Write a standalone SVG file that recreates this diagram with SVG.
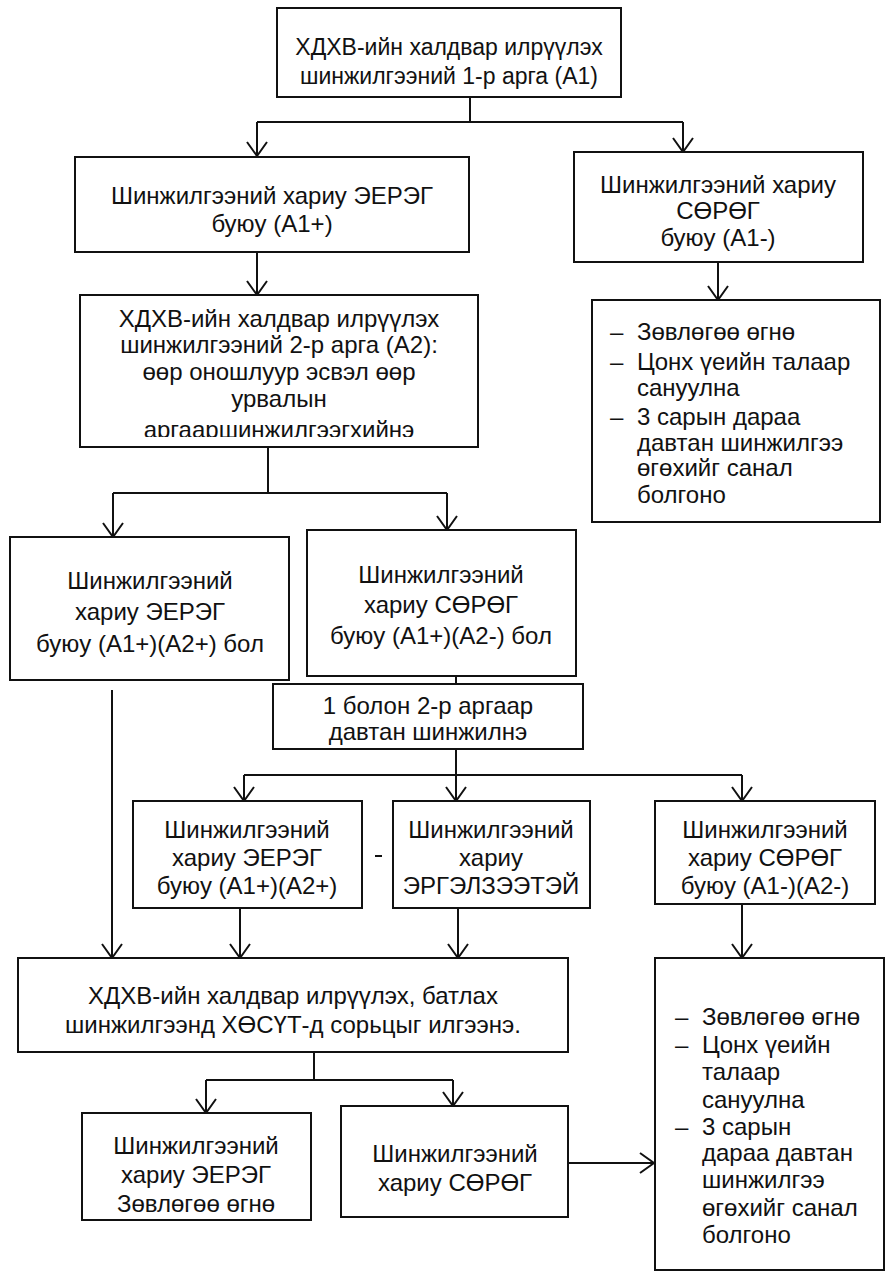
<svg xmlns="http://www.w3.org/2000/svg" width="886" height="1279" viewBox="0 0 886 1279">
<style>
.box{fill:#fff;stroke:#111;stroke-width:2}
.t{font-family:"Liberation Sans",Arial,sans-serif;font-size:24px;fill:#111;text-anchor:middle}
.l{font-family:"Liberation Sans",Arial,sans-serif;font-size:24px;fill:#111}
.c{fill:none;stroke:#111;stroke-width:2}
</style>
<defs>
<marker id="arr" viewBox="0 0 16 22" refX="15" refY="11" markerWidth="16" markerHeight="22" markerUnits="userSpaceOnUse" orient="auto">
<path d="M1,1 L15,11 L1,21" fill="none" stroke="#111" stroke-width="2"/>
</marker>
<clipPath id="clip5"><rect x="80" y="295" width="398" height="142"/></clipPath>
</defs>
<rect width="886" height="1279" fill="#fff"/>
<g id="connectors">
<path class="c" d="M470,97 V122 M257,122 H683"/>
<path class="c" d="M257,122 V156" marker-end="url(#arr)"/>
<path class="c" d="M683,122 V152" marker-end="url(#arr)"/>
<path class="c" d="M718,262 V300" marker-end="url(#arr)"/>
<path class="c" d="M257,252 V295" marker-end="url(#arr)"/>
<path class="c" d="M268,447 V493 M113,493 H447"/>
<path class="c" d="M113,493 V537" marker-end="url(#arr)"/>
<path class="c" d="M447,493 V530" marker-end="url(#arr)"/>
<path class="c" d="M112,690 V958" marker-end="url(#arr)"/>
<path class="c" d="M456,676 V684"/>
<path class="c" d="M456,749 V775 M244,775 H742"/>
<path class="c" d="M244,775 V801" marker-end="url(#arr)"/>
<path class="c" d="M456,775 V801" marker-end="url(#arr)"/>
<path class="c" d="M742,775 V801" marker-end="url(#arr)"/>
<path class="c" d="M240,908 V958" marker-end="url(#arr)"/>
<path class="c" d="M458,908 V958" marker-end="url(#arr)"/>
<path class="c" d="M742,904 V958" marker-end="url(#arr)"/>
<path class="c" d="M314,1052 V1080 M206,1080 H453"/>
<path class="c" d="M206,1080 V1113" marker-end="url(#arr)"/>
<path class="c" d="M453,1080 V1106" marker-end="url(#arr)"/>
<path class="c" d="M568,1163 H654" marker-end="url(#arr)"/>
<path class="c" d="M375,856 H382" stroke-width="1.5"/>
</g>
<g id="n1">
<rect class="box" x="277" y="8" width="344" height="89"/>
<text class="t" x="449" y="55" style="font-size:23px">ХДХВ-ийн халдвар илрүүлэх</text>
<text class="t" x="449" y="84" style="font-size:23px">шинжилгээний 1-р арга (А1)</text>
</g>
<g id="n2">
<rect class="box" x="75" y="157" width="394" height="95"/>
<text class="t" x="272" y="204">Шинжилгээний хариу ЭЕРЭГ</text>
<text class="t" x="272" y="232">буюу (А1+)</text>
</g>
<g id="n3">
<rect class="box" x="574" y="152" width="289" height="110"/>
<text class="t" x="718" y="193">Шинжилгээний хариу</text>
<text class="t" x="718" y="219">СӨРӨГ</text>
<text class="t" x="718" y="246">буюу (А1-)</text>
</g>
<g id="n4">
<rect class="box" x="592" y="300" width="288" height="222"/>
<text class="l" x="610" y="340">–</text><text class="l" x="637" y="340">Зөвлөгөө өгнө</text>
<text class="l" x="610" y="370">–</text><text class="l" x="637" y="370">Цонх үеийн талаар</text>
<text class="l" x="637" y="396">сануулна</text>
<text class="l" x="610" y="425">–</text><text class="l" x="637" y="425">3 сарын дараа</text>
<text class="l" x="637" y="451">давтан шинжилгээ</text>
<text class="l" x="637" y="476">өгөхийг санал</text>
<text class="l" x="637" y="503">болгоно</text>
</g>
<g id="n5">
<rect class="box" x="80" y="295" width="398" height="152"/>
<text class="t" x="279" y="327">ХДХВ-ийн халдвар илрүүлэх</text>
<text class="t" x="279" y="353">шинжилгээний 2-р арга (А2):</text>
<text class="t" x="279" y="380">өөр оношлуур эсвэл өөр</text>
<text class="t" x="279" y="407">урвалын</text>
<text class="t" x="279" y="438" clip-path="url(#clip5)">аргааршинжилгээгхийнэ</text>
</g>
<g id="n6">
<rect class="box" x="10" y="537" width="279" height="143"/>
<text class="t" x="150" y="589">Шинжилгээний</text>
<text class="t" x="150" y="620">хариу ЭЕРЭГ</text>
<text class="t" x="150" y="652">буюу (А1+)(А2+) бол</text>
</g>
<g id="n7">
<rect class="box" x="307" y="530" width="269" height="146"/>
<text class="t" x="441" y="583">Шинжилгээний</text>
<text class="t" x="441" y="613">хариу СӨРӨГ</text>
<text class="t" x="441" y="644">буюу (А1+)(А2-) бол</text>
</g>
<g id="n8">
<rect class="box" x="273" y="684" width="310" height="65"/>
<text class="t" x="428" y="714">1 болон 2-р аргаар</text>
<text class="t" x="428" y="740">давтан шинжилнэ</text>
</g>
<g id="n9">
<rect class="box" x="133" y="801" width="229" height="107"/>
<text class="t" x="247" y="838">Шинжилгээний</text>
<text class="t" x="247" y="866">хариу ЭЕРЭГ</text>
<text class="t" x="247" y="894">буюу (А1+)(А2+)</text>
</g>
<g id="n10">
<rect class="box" x="393" y="801" width="197" height="107"/>
<text class="t" x="491" y="838">Шинжилгээний</text>
<text class="t" x="491" y="866">хариу</text>
<text class="t" x="491" y="894">ЭРГЭЛЗЭЭТЭЙ</text>
</g>
<g id="n11">
<rect class="box" x="655" y="801" width="220" height="103"/>
<text class="t" x="765" y="838">Шинжилгээний</text>
<text class="t" x="765" y="866">хариу СӨРӨГ</text>
<text class="t" x="765" y="894">буюу (А1-)(А2-)</text>
</g>
<g id="n12">
<rect class="box" x="655" y="958" width="229" height="312"/>
<text class="l" x="675" y="1025">–</text><text class="l" x="702" y="1025">Зөвлөгөө өгнө</text>
<text class="l" x="675" y="1053">–</text><text class="l" x="702" y="1053">Цонх үеийн</text>
<text class="l" x="702" y="1080">талаар</text>
<text class="l" x="702" y="1108">сануулна</text>
<text class="l" x="675" y="1135">–</text><text class="l" x="702" y="1135">3 сарын</text>
<text class="l" x="702" y="1161">дараа давтан</text>
<text class="l" x="702" y="1188">шинжилгээ</text>
<text class="l" x="702" y="1216">өгөхийг санал</text>
<text class="l" x="702" y="1243">болгоно</text>
</g>
<g id="n13">
<rect class="box" x="18" y="958" width="550" height="94"/>
<text class="t" x="293" y="1004">ХДХВ-ийн халдвар илрүүлэх, батлах</text>
<text class="t" x="293" y="1033">шинжилгээнд ХӨСҮТ-д сорьцыг илгээнэ.</text>
</g>
<g id="n14">
<rect class="box" x="82" y="1113" width="229" height="107"/>
<text class="t" x="196" y="1154">Шинжилгээний</text>
<text class="t" x="196" y="1183">хариу ЭЕРЭГ</text>
<text class="t" x="196" y="1212">Зөвлөгөө өгнө</text>
</g>
<g id="n15">
<rect class="box" x="341" y="1106" width="227" height="111"/>
<text class="t" x="455" y="1162">Шинжилгээний</text>
<text class="t" x="455" y="1191">хариу СӨРӨГ</text>
</g>
</svg>
